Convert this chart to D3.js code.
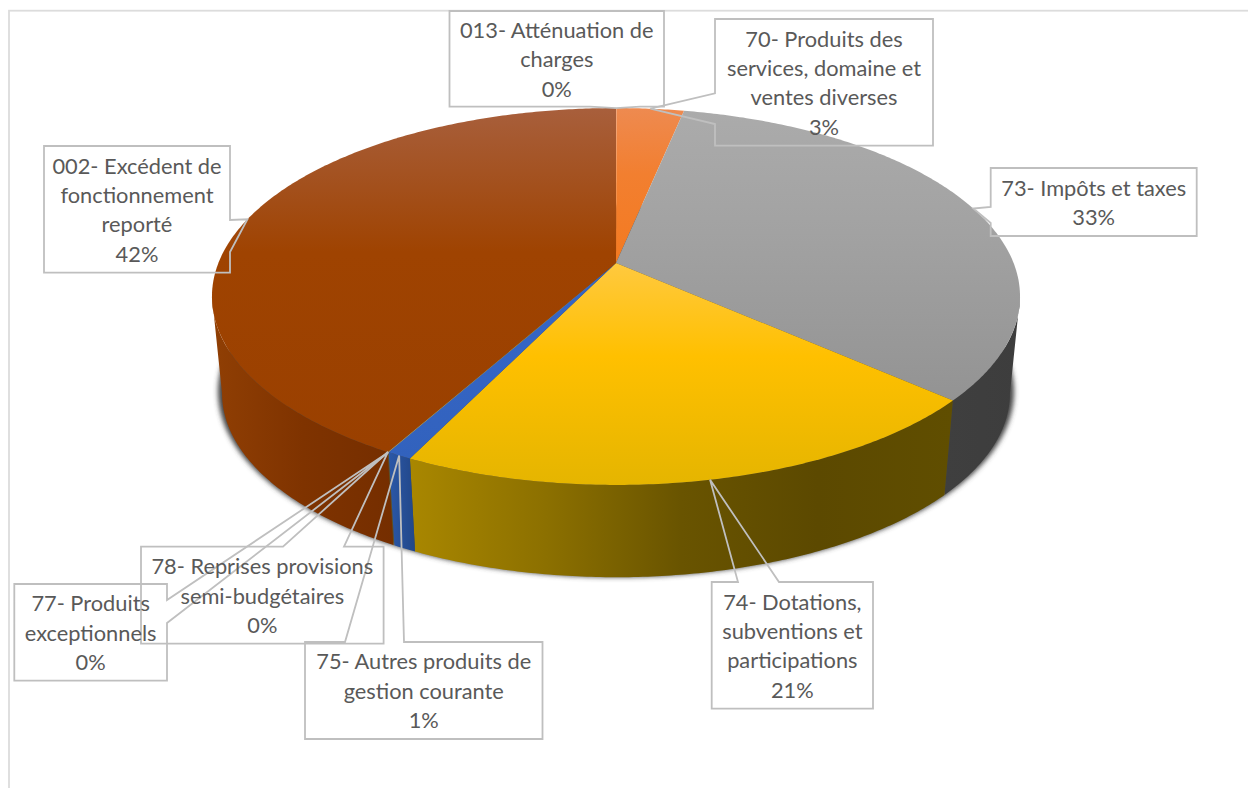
<!DOCTYPE html>
<html>
<head>
<meta charset="utf-8">
<script src="https://cdn.jsdelivr.net/npm/d3@7"></script>
<style>
  html, body { margin: 0; background: #fff; overflow: hidden; }
  svg { display: block; }
  text { font-family: Lato, "Open Sans", sans-serif; font-size: 21.8px; fill: #595959; }
</style>
</head>
<body>
<div id="chart"></div>
<script>
// --- Datos ---
const categories = [
    "013- Atténuation de charges",
    "70- Produits des services, domaine et ventes diverses",
    "73- Impôts et taxes",
    "74- Dotations, subventions et participations",
    "75- Autres produits de gestion courante",
    "77- Produits exceptionnels",
    "78- Reprises provisions semi-budgétaires",
    "002- Excédent de fonctionnement reporté"
];
const shares = [0.02, 3.2, 33.35, 20.6, 0.85, 0.02, 0.02, 41.94];
const percentLabels = ["0%", "3%", "33%", "21%", "1%", "0%", "0%", "42%"];

// --- Colores ---
const topColors = [
    ["#ee8a50", "#f27f30", "#f47a20"],
    ["#ee8a50", "#f27f30", "#f47a20"],
    ["#ababab", "#a2a2a2", "#939393"],
    ["#ffc93f", "#ffc000", "#e5b500"],
    ["#3565c4", "#3565c4", "#3262bd"],
    ["#a5a5a5", "#a5a5a5", "#a5a5a5"],
    ["#ffc000", "#ffc000", "#ffc000"],
    ["#a85f3c", "#9f4301", "#9a4000"]
];
const wallColors = [
    ["#8f4a14", "#8f4a14"],
    ["#8f4a14", "#8f4a14"],
    ["#3f3f3f", "#3d3d3d"],
    ["#a98700", "#8c7000", "#695400", "#5c4900", "#604e00"],
    ["#2b58a8", "#224788"],
    ["#555555", "#555555"],
    ["#6b5500", "#6b5500"],
    ["#903f04", "#7f3300", "#752e00"]
];

// --- Cajas de las etiquetas: [izq, arriba, der, abajo], lineas de texto y base del puntero ---
const labelLines = [
    ["013- Atténuation de", "charges"],
    ["70- Produits des", "services, domaine et", "ventes diverses"],
    ["73- Impôts et taxes"],
    ["74- Dotations,", "subventions et", "participations"],
    ["75- Autres produits de", "gestion courante"],
    ["77- Produits", "exceptionnels"],
    ["78- Reprises provisions", "semi-budgétaires"],
    ["002- Excédent de", "fonctionnement", "reporté"]
];
const labelBoxes = [
    [449.5, 11, 664, 106.7],
    [715, 19, 933, 145.7],
    [990.7, 168, 1196.7, 236],
    [711.7, 582, 873, 708.7],
    [305, 642, 542.5, 739],
    [14.3, 584, 167, 680.7],
    [141, 546.7, 383.6, 643.7],
    [44, 146, 230, 272.7]
];
// lado donde sale el puntero y los dos puntos de su base sobre ese lado
const pointerBases = [
    ["bottom", 640, 590],
    ["left", 93.3, 124],
    ["left", 207, 223],
    ["top", 738, 779],
    ["top", 345, 404],
    ["right", 600, 623],
    ["top", 283, 344],
    ["right", 220, 252]
];

// --- Geometria del disco en perspectiva ---
const width = 1248, height = 788;
const apex = { x: 616, y: 263 };
const persp = 0.1777, radX = 397.6, radY = 182.5;
const wallDrop = 97, wallScale = 0.975;
const midY = apex.y + radY * persp / (1 - persp * persp);

function project(angle, scale = 1, drop = 0) {
    const u = Math.sin(angle), v = -Math.cos(angle);
    const w = 1 - persp * v;
    const px = radX * u / w, py = apex.y + radY * v / w;
    return [apex.x + scale * px, midY + drop + scale * (py - midY)];
}

function angleSteps(a0, a1) {
    const n = Math.max(2, Math.ceil(Math.abs(a1 - a0) / 0.01));
    return d3.range(n + 1).map(i => a0 + (a1 - a0) * i / n);
}

const line = d3.line();
const svg = d3.select("#chart").append("svg")
    .attr("width", width)
    .attr("height", height);
const defs = svg.append("defs");

// --- Marco del grafico (solo se ven arriba e izquierda) ---
svg.append("rect")
    .attr("x", 9).attr("y", 10.7)
    .attr("width", width + 50).attr("height", height + 50)
    .attr("fill", "none")
    .attr("stroke", "#dcdcdc")
    .attr("stroke-width", 1.8);

const pie = d3.pie().sort(null).value(d => d).startAngle(0).endAngle(2 * Math.PI);
const arcs = pie(shares);

// --- Sombra ---
defs.append("filter").attr("id", "blur")
    .attr("x", "-5%").attr("y", "-5%").attr("width", "110%").attr("height", "110%")
    .append("feGaussianBlur").attr("stdDeviation", 2.8);

svg.append("path")
    .attr("d", line(angleSteps(0, 2 * Math.PI).map(a => project(a, 0.985, 95))) + "Z")
    .attr("fill", "#444444")
    .attr("filter", "url(#blur)");

// --- Paredes laterales: solo la parte frontal ---
const wallStart = Math.acos(-persp);
const wallEnd = 2 * Math.PI - wallStart;

arcs.forEach((d, i) => {
    const a0 = Math.max(d.startAngle, wallStart);
    const a1 = Math.min(d.endAngle, wallEnd);
    if (a1 <= a0) return;

    const grad = defs.append("linearGradient").attr("id", "wall" + i);
    wallColors[i].forEach((c, j) => {
        grad.append("stop")
            .attr("offset", j / (wallColors[i].length - 1))
            .attr("stop-color", c);
    });

    const upper = angleSteps(a0, a1).map(a => project(a));
    const lower = angleSteps(a1, a0).map(a => project(a, wallScale, wallDrop));
    svg.append("path")
        .attr("d", line(upper.concat(lower)) + "Z")
        .attr("fill", `url(#wall${i})`);
});

// --- Cara superior ---
arcs.forEach((d, i) => {
    const grad = defs.append("linearGradient")
        .attr("id", "top" + i)
        .attr("x1", 0).attr("y1", 0).attr("x2", 0).attr("y2", 1);
    [0, 0.42, 1].forEach((off, j) => {
        grad.append("stop").attr("offset", off).attr("stop-color", topColors[i][j]);
    });

    const rim = angleSteps(d.startAngle, d.endAngle).map(a => project(a));
    svg.append("path")
        .attr("d", line([[apex.x, apex.y]].concat(rim)) + "Z")
        .attr("fill", `url(#top${i})`);
});

// --- Etiquetas con puntero ---
function calloutPath(box, base, tip) {
    const [l, t, r, b] = box;
    const [side, p, q] = base;
    let pts;
    if (side === "top") pts = [[l, t], [p, t], tip, [q, t], [r, t], [r, b], [l, b]];
    if (side === "right") pts = [[l, t], [r, t], [r, p], tip, [r, q], [r, b], [l, b]];
    if (side === "bottom") pts = [[l, t], [r, t], [r, b], [p, b], tip, [q, b], [l, b]];
    if (side === "left") pts = [[l, t], [r, t], [r, b], [l, b], [l, q], tip, [l, p]];
    return line(pts) + "Z";
}

const lineStep = 29.4;

arcs.forEach((d, i) => {
    const tip = project((d.startAngle + d.endAngle) / 2);
    svg.append("path")
        .attr("d", calloutPath(labelBoxes[i], pointerBases[i], tip))
        .attr("fill", "none")
        .attr("stroke", "#bfbfbf")
        .attr("stroke-width", 1.8);
});

arcs.forEach((d, i) => {
    const [l, t, r, b] = labelBoxes[i];
    const rows = labelLines[i].concat(percentLabels[i]);
    const firstY = (t + b) / 2 - (rows.length - 1) * lineStep / 2;
    svg.append("text")
        .attr("text-anchor", "middle")
        .selectAll("tspan")
        .data(rows)
        .enter()
        .append("tspan")
        .attr("x", (l + r) / 2)
        .attr("y", (row, j) => firstY + j * lineStep + 8.3)
        .text(row => row);
});
</script>
</body>
</html>
